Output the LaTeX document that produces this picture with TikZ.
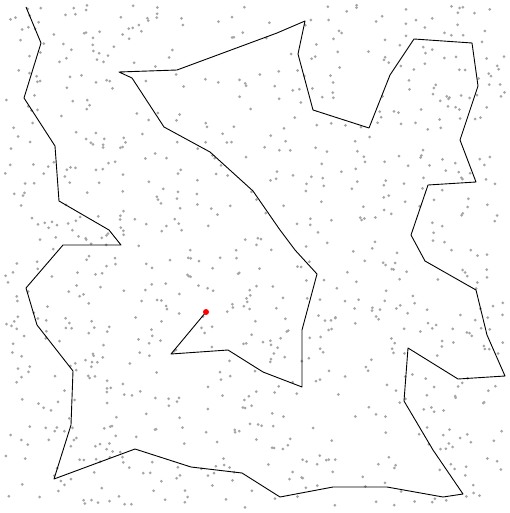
\documentclass[tikz,border=0pt]{standalone}
\definecolor{dotgray}{RGB}{165,165,165}
\tikzset{
  dotstyle/.style={fill=dotgray, draw=none},
  pathline/.style={draw=black, line width=0.9pt, line join=round},
  enddot/.style={circle, fill=red, inner sep=0pt, minimum size=6pt}
}
\begin{document}
\begin{tikzpicture}[x=1pt,y=-1pt]
\useasboundingbox (0,0) rectangle (509,513);
\fill[white] (0,0) rectangle (509,513);
\pgfmathsetseed{4242}
\foreach \i in {1,...,900}{
  \pgfmathsetmacro\px{5+rnd*500}
  \pgfmathsetmacro\py{5+rnd*503}
  \fill[dotstyle] (\px,\py) circle (1.5pt);
}
\draw[pathline] (26,7) -- (41,43) -- (24,98) -- (55,146) -- (59,201) -- (109,230) -- (121,245) -- (63,245) -- (26,288) -- (37,325) -- (73,371) -- (71,425) -- (54,479) -- (135,449) -- (191,467) -- (242,473) -- (280,497) -- (333,487) -- (387,487) -- (443,497) -- (463,494) -- (433,450) -- (404,401) -- (408,348) -- (458,379) -- (505,376) -- (487,335) -- (476,290) -- (425,261) -- (411,235) -- (428,185) -- (476,182) -- (460,140) -- (478,86) -- (472,43) -- (414,39) -- (390,75) -- (369,128) -- (313,110) -- (298,54) -- (305,21) -- (277,33) -- (177,70) -- (119,72) -- (132,78) -- (164,127) -- (210,152) -- (253,191) -- (280,230) -- (295,250) -- (317,274) -- (302,330) -- (302,387) -- (263,372) -- (228,350) -- (171,354) -- (206,312) coordinate (tip);
\node[enddot] (end) at (tip) {};
\end{tikzpicture}
\end{document}
